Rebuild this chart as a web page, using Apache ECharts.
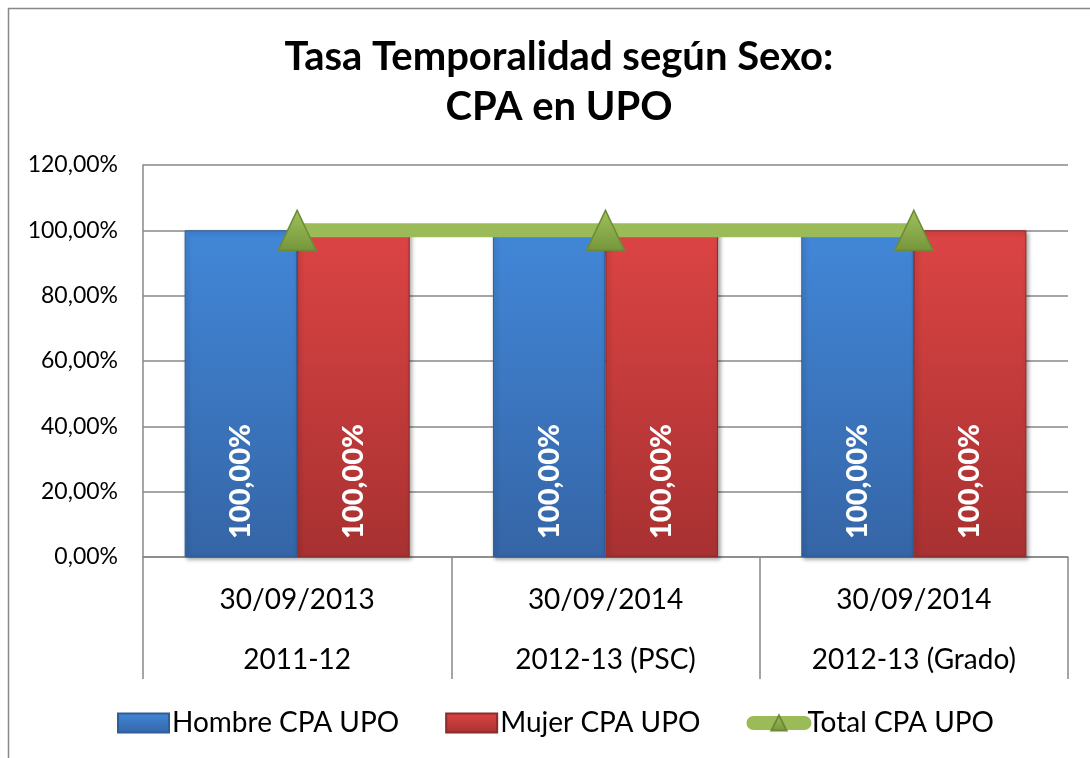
<!DOCTYPE html>
<html>
<head>
<meta charset="utf-8">
<script src="https://cdn.jsdelivr.net/npm/echarts@6/dist/echarts.min.js"></script>
<style>
html,body{margin:0;padding:0;background:#fff;}
#c{width:1090px;height:758px;}
</style>
</head>
<body>
<div id="c"></div>
<script>
var fechas = ['30/09/2013', '30/09/2014', '30/09/2014'];
var cursos = ['2011-12', '2012-13 (PSC)', '2012-13 (Grado)'];
var hombre = [100, 100, 100];
var mujer = [100, 100, 100];
var total = [100, 100, 100];
var yTicks = [0, 20, 40, 60, 80, 100, 120];

var FONT = 'Lato, "Open Sans", sans-serif';
var categories = fechas.map(function (f, i) { return f + '\n' + cursos[i]; });
function pct(v) { return v.toFixed(2).replace('.', ',') + '%'; }

var chart = echarts.init(document.getElementById('c'), null, { renderer: 'canvas' });

var barLabel = {
  show: true,
  position: 'insideBottom',
  rotate: 90,
  align: 'left',
  verticalAlign: 'middle',
  distance: 18,
  color: '#fff',
  fontFamily: FONT,
  fontWeight: 900,
  fontSize: 29,
  formatter: function (p) { return pct(p.value); }
};

chart.setOption({
  animation: false,
  backgroundColor: '#fff',
  graphic: [{
    type: 'rect',
    shape: { x: 8.5, y: 8.5, width: 1100, height: 800 },
    style: { fill: 'none', stroke: '#888', lineWidth: 1.5 },
    silent: true, z: -10
  }],
  title: {
    text: 'Tasa Temporalidad según Sexo:\nCPA en UPO',
    left: 554,
    top: 27,
    textAlign: 'center',
    textStyle: { fontFamily: FONT, fontWeight: 'bold', fontSize: 40, lineHeight: 50, color: '#000' }
  },
  legend: {
    left: 112,
    top: 704,
    itemWidth: 51,
    itemHeight: 19,
    itemGap: 46,
    textStyle: { fontFamily: FONT, fontSize: 28, color: '#000', padding: [0, 0, 0, -2] },
    data: [
      { name: 'Hombre CPA UPO', icon: 'rect' },
      { name: 'Mujer CPA UPO', icon: 'rect' },
      { name: 'Total CPA UPO', lineStyle: { width: 14, cap: 'round' } }
    ]
  },
  grid: { left: 143, right: 22, top: 165, bottom: 201, containLabel: false },
  xAxis: {
    type: 'category',
    data: categories,
    boundaryGap: true,
    axisLine: { show: true, lineStyle: { color: '#888', width: 1.5 } },
    axisTick: { show: true, length: 122, interval: 0, lineStyle: { color: '#888', width: 1.5 } },
    axisLabel: {
      interval: 0,
      margin: 13,
      fontFamily: FONT,
      fontSize: 28,
      lineHeight: 60,
      color: '#000'
    }
  },
  yAxis: {
    type: 'value',
    min: yTicks[0],
    max: yTicks[yTicks.length - 1],
    interval: yTicks[1] - yTicks[0],
    axisLine: { show: true, lineStyle: { color: '#888', width: 1.5 } },
    axisTick: { show: false },
    splitLine: { show: true, lineStyle: { color: '#888', width: 1.5 } },
    axisLabel: {
      margin: 25,
      fontFamily: FONT,
      fontSize: 23,
      color: '#000',
      formatter: function (v) { return pct(v); }
    }
  },
  series: [
    {
      name: 'Hombre CPA UPO',
      type: 'bar',
      data: hombre,
      barGap: '0%',
      barCategoryGap: '27%',
      itemStyle: {
        color: new echarts.graphic.LinearGradient(0, 0, 0, 1, [
          { offset: 0, color: '#4287d8' },
          { offset: 1, color: '#3565a6' }
        ]),
        borderColor: '#2f5d99',
        borderWidth: 1,
        shadowColor: 'rgba(0,0,0,0.35)',
        shadowBlur: 4,
        shadowOffsetX: 2,
        shadowOffsetY: 2
      },
      label: barLabel
    },
    {
      name: 'Mujer CPA UPO',
      type: 'bar',
      data: mujer,
      itemStyle: {
        color: new echarts.graphic.LinearGradient(0, 0, 0, 1, [
          { offset: 0, color: '#dc4444' },
          { offset: 1, color: '#a83131' }
        ]),
        borderColor: '#8f2a2a',
        borderWidth: 1,
        shadowColor: 'rgba(0,0,0,0.35)',
        shadowBlur: 4,
        shadowOffsetX: 2,
        shadowOffsetY: 2
      },
      label: barLabel
    },
    {
      name: 'Total CPA UPO',
      type: 'line',
      data: total,
      z: 5,
      symbol: 'triangle',
      symbolSize: [38, 40],
      lineStyle: { color: '#9bbb59', width: 14, cap: 'round' },
      itemStyle: {
        color: new echarts.graphic.LinearGradient(0, 0, 0, 1, [
          { offset: 0, color: '#9fc25a' },
          { offset: 1, color: '#76953c' }
        ]),
        borderColor: '#6d8a38',
        borderWidth: 1.5
      }
    }
  ]
});
</script>
</body>
</html>
